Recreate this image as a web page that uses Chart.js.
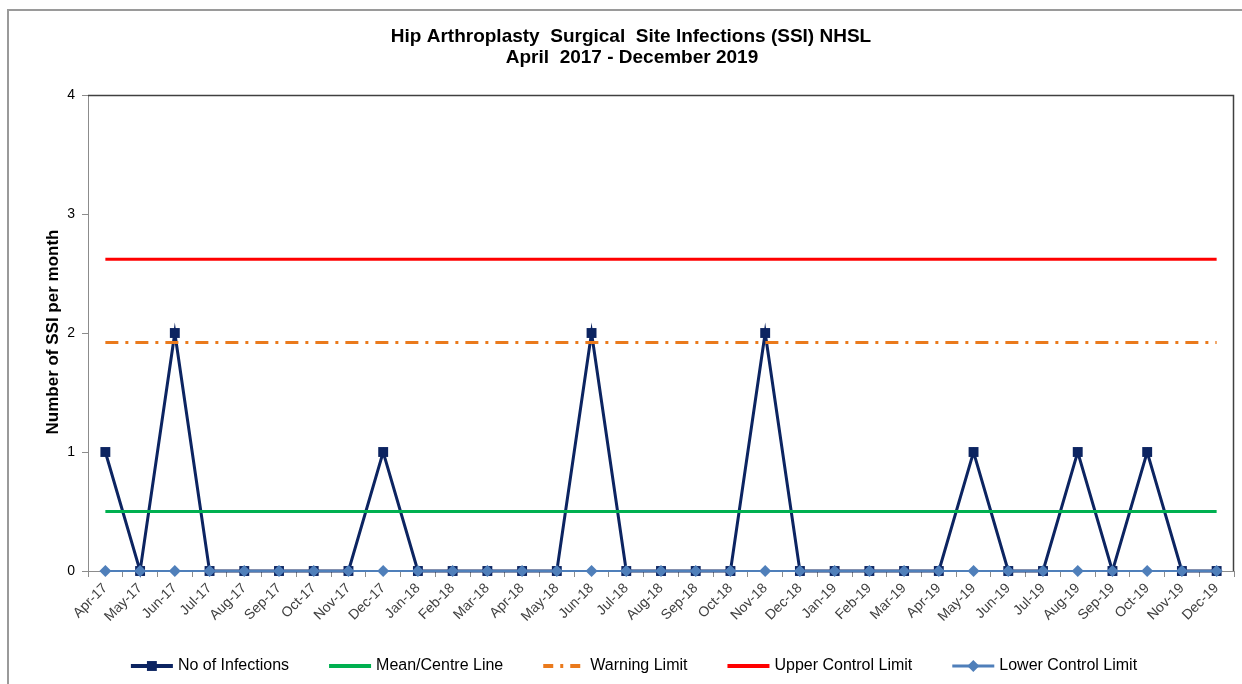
<!DOCTYPE html>
<html lang="en">
<head>
<meta charset="UTF-8">
<title>Hip Arthroplasty SSI NHSL</title>
<script src="https://cdn.jsdelivr.net/npm/chart.js"></script>
<style>
  body { margin: 0; background: #fff; }
  #wrap { position: relative; width: 1242px; height: 684px; }
</style>
</head>
<body>
<div id="wrap"><canvas id="ssiChart" width="1242" height="684"></canvas></div>
<script>
// data
const months = ['Apr-17','May-17','Jun-17','Jul-17','Aug-17','Sep-17','Oct-17','Nov-17','Dec-17',
  'Jan-18','Feb-18','Mar-18','Apr-18','May-18','Jun-18','Jul-18','Aug-18','Sep-18','Oct-18','Nov-18','Dec-18',
  'Jan-19','Feb-19','Mar-19','Apr-19','May-19','Jun-19','Jul-19','Aug-19','Sep-19','Oct-19','Nov-19','Dec-19'];
const infections = [1,0,2,0,0,0,0,0,1,0,0,0,0,0,2,0,0,0,0,2,0,0,0,0,0,1,0,0,1,0,1,0,0];
const meanValue = 0.5;
const warningValue = 1.92;
const uclValue = 2.62;
const lclValue = 0;
const yTicks = [0, 1, 2, 3, 4];
const titleLines = ['Hip Arthroplasty  Surgical  Site Infections (SSI) NHSL', 'April  2017 - December 2019'];
const yTitle = 'Number of SSI per month';

const FONT = '"Liberation Sans", Arial, sans-serif';
const flat = v => months.map(() => v);

const datasets = [
  { label: 'No of Infections', data: infections, borderColor: '#0c2461', backgroundColor: '#0c2461',
    borderWidth: 3, pointStyle: 'rect', pointRadius: 7, pointBorderWidth: 0, order: 5 },
  { label: 'Mean/Centre Line', data: flat(meanValue), borderColor: '#00b050', borderWidth: 3,
    pointRadius: 0, order: 4 },
  { label: 'Warning Limit', data: flat(warningValue), borderColor: '#ea7a1c', borderWidth: 3,
    borderDash: [13, 7, 3, 7], pointRadius: 0, order: 3 },
  { label: 'Upper Control Limit', data: flat(uclValue), borderColor: '#ff0000', borderWidth: 3,
    pointRadius: 0, order: 2 },
  { label: 'Lower Control Limit', data: flat(lclValue), borderColor: '#4f7fba', backgroundColor: '#4f7fba',
    borderWidth: 2, pointStyle: 'rectRot', pointRadius: 6, pointBorderWidth: 0, order: 1 }
];
datasets.forEach(d => { d.clip = false; });

function marker(ctx, style, r, x, y, color) {
  ctx.save();
  ctx.fillStyle = color;
  ctx.beginPath();
  if (style === 'rect') {
    const s = Math.SQRT1_2 * r;
    ctx.rect(x - s, y - s, 2 * s, 2 * s);
  } else if (style === 'rectRot') {
    ctx.moveTo(x, y - r); ctx.lineTo(x + r, y); ctx.lineTo(x, y + r); ctx.lineTo(x - r, y);
    ctx.closePath();
  }
  ctx.fill();
  ctx.restore();
}

// frame, titles and legend
const decor = {
  id: 'decor',
  afterDraw(chart) {
    const ctx = chart.ctx;
    const a = chart.chartArea;
    ctx.save();
    // outer chart border
    ctx.strokeStyle = '#9a9a9a';
    ctx.lineWidth = 2;
    ctx.beginPath();
    ctx.moveTo(8, 684); ctx.lineTo(8, 10); ctx.lineTo(1242, 10);
    ctx.stroke();
    // plot area top/right
    ctx.strokeStyle = '#404040';
    ctx.lineWidth = 1.5;
    ctx.beginPath();
    ctx.moveTo(a.left, a.top + 0.5); ctx.lineTo(a.right - 0.5, a.top + 0.5); ctx.lineTo(a.right - 0.5, a.bottom);
    ctx.stroke();

    // title
    ctx.fillStyle = '#000';
    ctx.textAlign = 'center';
    ctx.textBaseline = 'middle';
    ctx.font = 'bold 19px ' + FONT;
    ctx.fillText(titleLines[0], 631, 37);
    ctx.fillText(titleLines[1], 632, 58);

    // y title
    ctx.save();
    ctx.translate(53, 332);
    ctx.rotate(-Math.PI / 2);
    ctx.font = 'bold 17px ' + FONT;
    ctx.fillText(yTitle, 0, 0);
    ctx.restore();

    // legend
    ctx.font = '16px ' + FONT;
    const lineLen = 42, gapText = 5, gapItem = 40;
    const widths = datasets.map(d => lineLen + gapText + ctx.measureText(d.label).width);
    const total = widths.reduce((s, w) => s + w, 0) + gapItem * (datasets.length - 1);
    let x = 634 - total / 2;
    const y = 666;
    datasets.forEach((d, i) => {
      ctx.save();
      ctx.strokeStyle = d.borderColor;
      ctx.lineWidth = d.borderWidth + 1;
      ctx.setLineDash(d.borderDash ? [10, 7, 3, 7] : []);
      ctx.beginPath();
      ctx.moveTo(x, y); ctx.lineTo(x + lineLen, y);
      ctx.stroke();
      ctx.restore();
      if (d.pointRadius) marker(ctx, d.pointStyle, d.pointRadius, x + lineLen / 2, y, d.backgroundColor);
      ctx.fillStyle = '#000';
      ctx.textAlign = 'left';
      ctx.fillText(d.label, x + lineLen + gapText, y);
      x += widths[i] + gapItem;
    });
    ctx.restore();
  }
};

const ctx = document.getElementById('ssiChart').getContext('2d');
new Chart(ctx, {
  type: 'line',
  data: { labels: months, datasets: datasets },
  options: {
    responsive: false,
    animation: false,
    events: [],
    layout: { padding: { top: 95, right: 8, left: 0, bottom: 0 } },
    elements: { line: { tension: 0 } },
    plugins: {
      legend: { display: false },
      title: { display: false },
      tooltip: { enabled: false }
    },
    scales: {
      x: {
        offset: true,
        grid: { offset: true, drawOnChartArea: false, tickLength: 6, color: '#8c8c8c' },
        border: { color: '#8c8c8c', width: 1 },
        ticks: { autoSkip: false, maxRotation: 45, minRotation: 45, color: '#404040',
                 font: { family: FONT, size: 14 }, padding: 3 },
        afterFit: s => { s.height = 113; }
      },
      y: {
        min: 0, max: 4,
        afterBuildTicks: s => { s.ticks = yTicks.map(v => ({ value: v })); },
        ticks: { color: '#000', font: { family: FONT, size: 14 }, padding: 7 },
        grid: { drawOnChartArea: false, tickLength: 6, color: '#8c8c8c' },
        border: { color: '#8c8c8c', width: 1 },
        afterFit: s => { s.width = 88; }
      }
    }
  },
  plugins: [decor]
});
</script>
</body>
</html>
